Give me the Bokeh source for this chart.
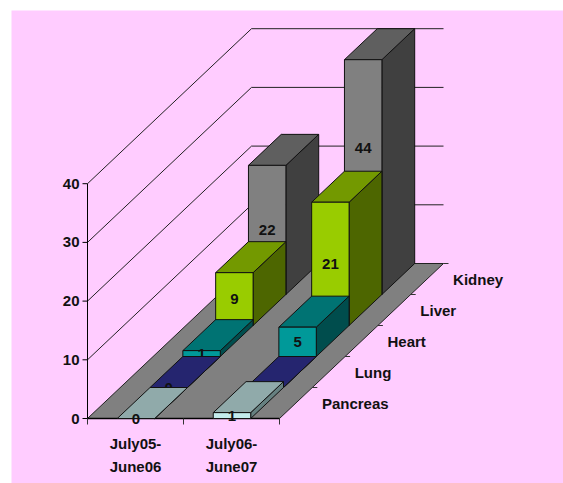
from bokeh.plotting import figure
from bokeh.models import Range1d
from bokeh.core.properties import value
from bokeh.embed import file_html
from bokeh.resources import INLINE

categories = ["July05-\nJune06", "July06-\nJune07"]
series = ["Pancreas", "Lung", "Heart", "Liver", "Kidney"]
pancreas = [0, 1]
lung = [0, 0]
heart = [1, 5]
liver = [9, 21]
kidney = [22, 44]
y_ticks = [0, 10, 20, 30, 40]
axis_max = 40
clipped_label_level = 25

series_values = [pancreas, lung, heart, liver, kidney]
# colours per series: front, top, side
colours = [
    ("#C4ECEC", "#90AAAA", "#668080"),
    ("#333399", "#25256F", "#1A1A4D"),
    ("#009999", "#007373", "#004D4D"),
    ("#99CC00", "#739900", "#4D6600"),
    ("#808080", "#5F5F5F", "#404040"),
]

X0, Y0 = 87.0, 418.0
CAT_W, UNIT = 96.0, 5.87
DEPTH_X, DEPTH_Y = 32.8, 31.0
BAR_L, BAR_R = 0.31, 0.70
FONT = value("Liberation Sans")


def px(c, v, d):
    return X0 + CAT_W * c + DEPTH_X * d


def py(c, v, d):
    return Y0 - UNIT * v - DEPTH_Y * d


def poly(pts):
    return [px(*q) for q in pts], [py(*q) for q in pts]


p = figure(width=555, height=475, x_range=Range1d(8, 563), y_range=Range1d(483, 8),
           output_backend="svg", toolbar_location=None,
           x_axis_location=None, y_axis_location=None, min_border=0,
           background_fill_color="white", border_fill_color="white", outline_line_color=None)
p.grid.visible = False
p.styles = {"position": "absolute", "left": "8px", "top": "8px"}

p.quad(left=[11], right=[563], top=[10], bottom=[483], fill_color="#FFCCFF", line_color=None)


def label(x, y, text, align="center"):
    p.text([x], [y], text=[text], text_font=FONT, text_font_style="bold", text_font_size="15px",
           text_color="#111111", text_align=align, text_baseline="middle")


n_cat = len(categories)
n_dep = len(series)

# gridlines on the two walls
for t in y_ticks[1:]:
    xs, ys = poly([(0, t, 0), (0, t, n_dep), (n_cat, t, n_dep)])
    p.line(xs, ys, line_color="#222222", line_width=1)

# floor
xs, ys = poly([(0, 0, 0), (n_cat, 0, 0), (n_cat, 0, n_dep), (0, 0, n_dep)])
p.patch(xs, ys, fill_color="#808080", line_color="#222222", line_width=1)
xs, ys = poly([(0, 0, 0), (n_cat, 0, 0)])
p.line(xs, ys, line_color="black", line_width=1.5)

# y axis
xs, ys = poly([(0, 0, 0), (0, axis_max, 0)])
p.line(xs, ys, line_color="black", line_width=1)
for t in y_ticks:
    p.segment([px(0, t, 0) - 5], [py(0, t, 0)], [px(0, t, 0)], [py(0, t, 0)], line_color="black")
    label(px(0, t, 0) - 8, py(0, t, 0), str(t), "right")

# category ticks and labels
for c in range(n_cat + 1):
    p.segment([px(c, 0, 0)], [Y0], [px(c, 0, 0)], [Y0 + 6], line_color="#333333")
for c, name in enumerate(categories):
    for i, line in enumerate(name.split("\n")):
        label(px(c + 0.5, 0, 0), Y0 + 25 + 23 * i, line)

# depth ticks and labels
for d in range(1, n_dep + 1):
    p.segment([px(n_cat, 0, d)], [py(n_cat, 0, d)], [px(n_cat, 0, d) + 5], [py(n_cat, 0, d)],
              line_color="#333333")
for d, name in enumerate(series):
    label(px(n_cat, 0, d + 0.5) + 26, py(n_cat, 0, d + 0.5), name, "left")

# bars, back to front
for d in reversed(range(n_dep)):
    front, top, side = colours[d]
    for c in range(n_cat):
        v = series_values[d][c]
        h = min(v, axis_max)
        l, r = c + BAR_L, c + BAR_R
        for face, col in (
            ([(r, 0, d), (r, 0, d + 1), (r, h, d + 1), (r, h, d)], side),
            ([(l, h, d), (r, h, d), (r, h, d + 1), (l, h, d + 1)], top),
            ([(l, 0, d), (r, 0, d), (r, h, d), (l, h, d)], front),
        ):
            xs, ys = poly(face)
            p.patch(xs, ys, fill_color=col, line_color="#111111", line_width=1)
        lvl = clipped_label_level if v > axis_max else v / 2
        label(px((l + r) / 2, lvl, d), py((l + r) / 2, lvl, d), str(v))

open("out.html", "w").write(file_html(p, INLINE))
